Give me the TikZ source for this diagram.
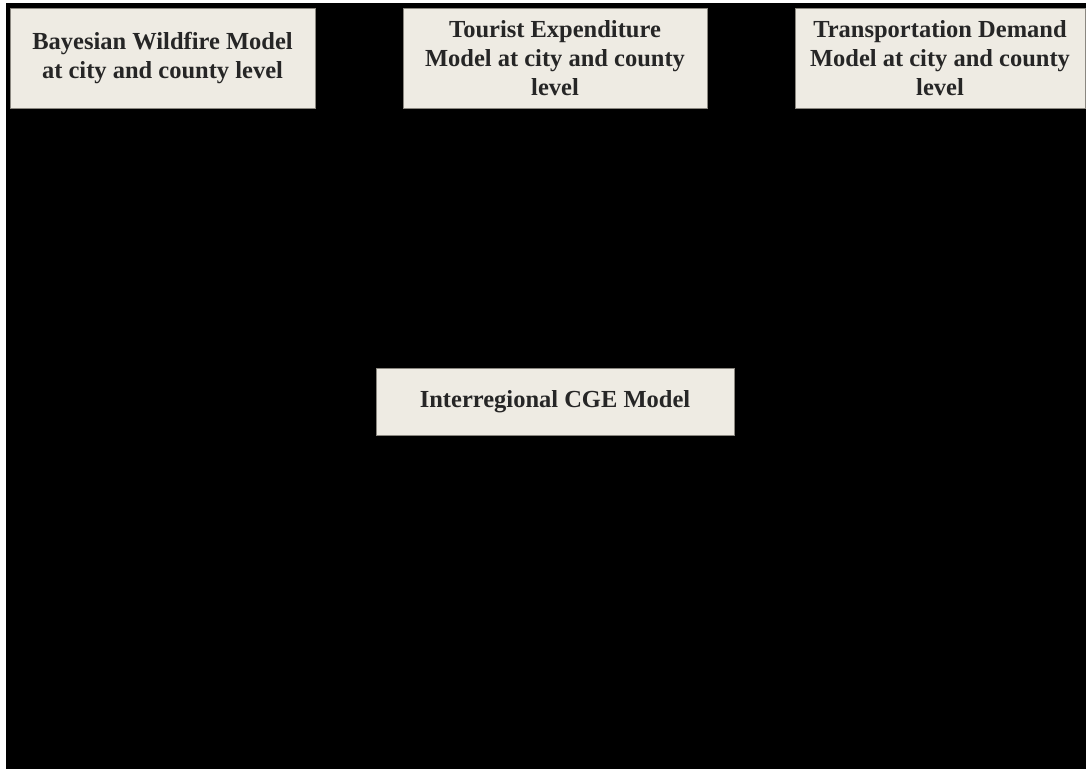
\documentclass[tikz,border=0pt]{standalone}
\usepackage{fontspec}
\setmainfont{Liberation Serif}
\usepackage{xcolor}
\usepackage{tikz}
\usetikzlibrary{positioning}

\definecolor{boxfill}{HTML}{EEEBE3}
\definecolor{boxline}{HTML}{8A8780}

\begin{document}
\begin{tikzpicture}[
    x=1pt, y=-1pt,
    box/.style={rectangle, draw=boxline, fill=boxfill, line width=1pt, minimum height=100pt, align=center, inner sep=2pt, font=\fontsize{24.5}{29}\selectfont\bfseries, text=black!85}
]

% Background
\fill[white] (0,0) rectangle (1086,771);
\fill[black] (6,3) rectangle (1086,769);
\useasboundingbox (0,0) rectangle (1086,771);

% Nodes
\node[box, minimum width=305pt] (wildfire) at (162.5,58) {Bayesian Wildfire Model\\at city and county level};
\node[box, minimum width=304pt, right=87pt of wildfire] (tourist) {Tourist Expenditure\\Model at city and county\\level};
\node[box, minimum width=290pt, right=87pt of tourist] (transport) {Transportation Demand\\Model at city and county\\level};
\node[box, minimum width=358pt, minimum height=67pt, below=259pt of tourist] (cge) {Interregional CGE Model};

\end{tikzpicture}
\end{document}
